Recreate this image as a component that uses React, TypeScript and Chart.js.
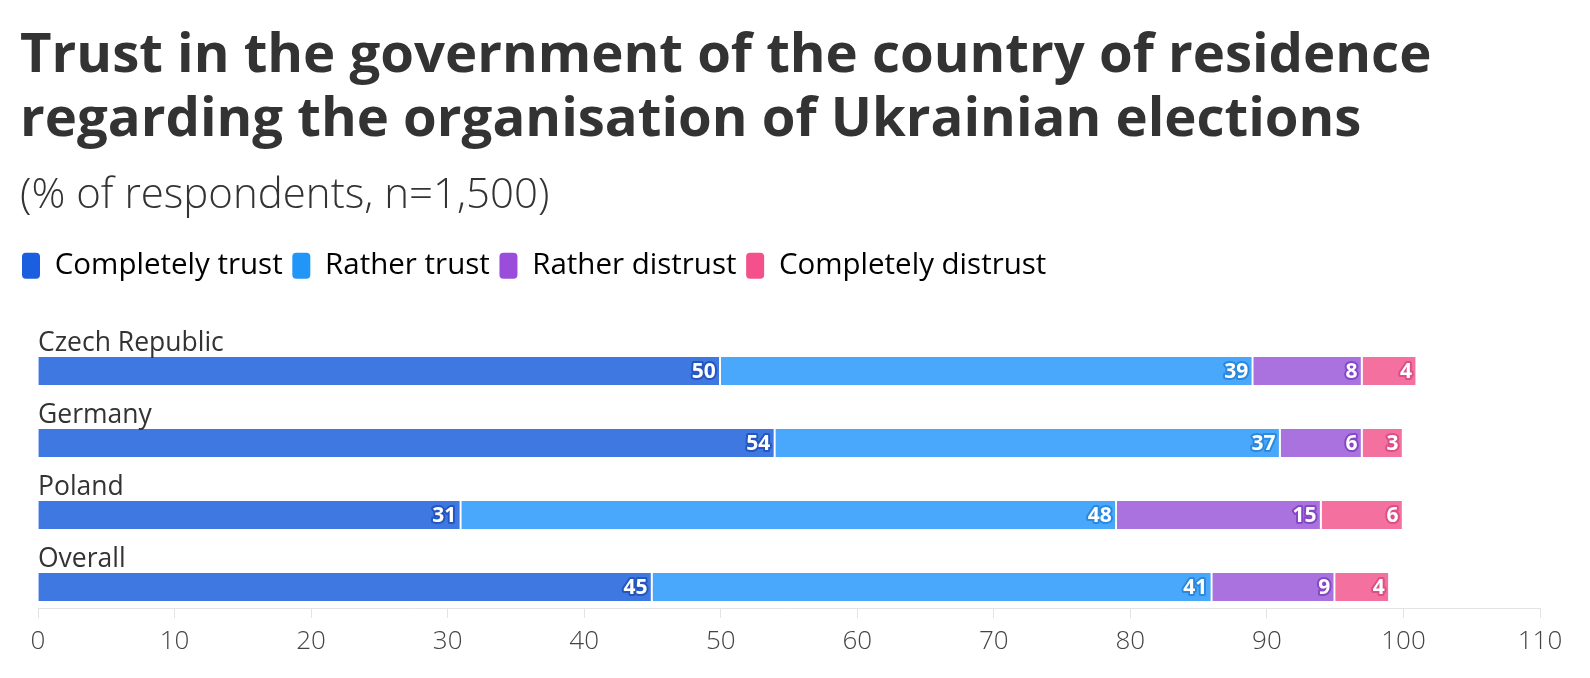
import React, { useEffect, useRef } from "react";
import { Chart, registerables } from "chart.js";

Chart.register(...registerables);

const titleLines = [
  "Trust in the government of the country of residence",
  "regarding the organisation of Ukrainian elections",
];
const subtitleText = "(% of respondents, n=1,500)";
const categories = ["Czech Republic", "Germany", "Poland", "Overall"];
const seriesNames = ["Completely trust", "Rather trust", "Rather distrust", "Completely distrust"];
const completelyTrust = [50, 54, 31, 45];
const ratherTrust = [39, 37, 48, 41];
const ratherDistrust = [8, 6, 15, 9];
const completelyDistrust = [4, 3, 6, 4];
const xTicks = [0, 10, 20, 30, 40, 50, 60, 70, 80, 90, 100, 110];
const legendColors = ["#1b5fe0", "#2196f8", "#9a4ddb", "#f4508b"];
const barColors = ["#3f78e0", "#4aa8fc", "#a972de", "#f4709e"];
const labelStrokeColors = ["#2456c0", "#2a88de", "#8347c8", "#dc4f84"];

const seriesValues = [completelyTrust, ratherTrust, ratherDistrust, completelyDistrust];

const FONT = "'Open Sans', 'Noto Sans', sans-serif";
const ROW_PX = 72; // vertical spacing between category rows
const Y_MAX = 3.29; // bottom edge of plot in row units

const categoryLabelPlugin = {
  id: "categoryLabels",
  afterDatasetsDraw(chart: any) {
    const ctx = chart.ctx;
    const meta = chart.getDatasetMeta(0);
    ctx.save();
    ctx.font = `400 26.5px ${FONT}`;
    ctx.fillStyle = "#333333";
    ctx.textAlign = "left";
    ctx.textBaseline = "alphabetic";
    meta.data.forEach((bar: any, i: number) => {
      const p = bar.getProps(["y", "height"], true);
      ctx.fillText(categories[i], chart.chartArea.left, p.y - p.height / 2 - 6);
    });
    ctx.restore();
  },
};

const valueLabelPlugin = {
  id: "valueLabels",
  afterDatasetsDraw(chart: any) {
    const ctx = chart.ctx;
    ctx.save();
    ctx.font = `700 21px ${FONT}`;
    ctx.textAlign = "right";
    ctx.textBaseline = "middle";
    ctx.lineJoin = "round";
    chart.data.datasets.forEach((ds: any, di: number) => {
      const meta = chart.getDatasetMeta(di);
      meta.data.forEach((bar: any, i: number) => {
        const p = bar.getProps(["x", "y"], true);
        const v = seriesValues[di][i];
        const tx = p.x - 5;
        const ty = p.y + 1;
        ctx.lineWidth = 4;
        ctx.strokeStyle = labelStrokeColors[di];
        ctx.strokeText(String(v), tx, ty);
        ctx.fillStyle = "#ffffff";
        ctx.fillText(String(v), tx, ty);
      });
    });
    ctx.restore();
  },
};

export default function App() {
  const ref = useRef<HTMLCanvasElement>(null);
  useEffect(() => {
    if (!ref.current) return;
    const chart: any = new Chart(ref.current, {
      type: "bar",
      data: {
        labels: categories,
        datasets: seriesNames.map((name, di) => ({
          label: name,
          data: categories.map((_, i) => ({ x: seriesValues[di][i], y: i })),
          backgroundColor: barColors[di],
          borderColor: "#ffffff",
          borderWidth: { top: 0, bottom: 0, left: 0, right: 2 },
          borderSkipped: false,
          barThickness: 28,
        })),
      },
      options: {
        animation: false,
        responsive: true,
        maintainAspectRatio: false,
        indexAxis: "y",
        layout: { padding: { left: 20, right: 50, top: 0, bottom: 0 } },
        scales: {
          x: {
            type: "linear",
            stacked: true,
            min: 0,
            max: 110,
            afterBuildTicks: (s: any) => {
              s.ticks = xTicks.map((v) => ({ value: v }));
            },
            afterFit: (s: any) => {
              s.height = 70;
            },
            grid: { drawOnChartArea: false, drawTicks: true, tickLength: 10, color: "#e3e3e3" },
            border: { display: true, color: "#e3e3e3", width: 1 },
            ticks: {
              color: "#444444",
              font: { family: FONT, size: 26, weight: "300" },
              padding: 8,
            },
          },
          y: {
            type: "linear",
            stacked: true,
            reverse: true,
            offset: false,
            min: -0.75,
            max: Y_MAX,
            display: true,
            grid: { display: false },
            border: { display: false },
            ticks: { display: false },
            afterFit: (s: any) => {
              s.width = 18;
            },
          },
        },
        plugins: {
          title: {
            display: true,
            text: titleLines,
            align: "start",
            color: "#333333",
            font: { family: FONT, size: 54.5, weight: "bold", lineHeight: 1.17 },
            padding: { top: 25, bottom: 0 },
          },
          subtitle: {
            display: true,
            text: subtitleText,
            align: "start",
            color: "#333333",
            font: { family: FONT, size: 42, weight: "300", lineHeight: 1.2 },
            padding: { top: 18, bottom: 28 },
          },
          legend: {
            display: true,
            position: "top",
            align: "start",
            labels: {
              boxWidth: 18,
              boxHeight: 26,
              useBorderRadius: true,
              borderRadius: 4,
              padding: 2,
              color: "#333333",
              font: { family: FONT, size: 29.5 },
              generateLabels: () =>
                seriesNames.map((name, i) => ({
                  text: name + " ",
                  fillStyle: legendColors[i],
                  strokeStyle: legendColors[i],
                  lineWidth: 0,
                  hidden: false,
                  datasetIndex: i,
                  borderRadius: 4,
                })),
            },
          },
          tooltip: { enabled: false },
        },
      },
      plugins: [categoryLabelPlugin, valueLabelPlugin],
    });
    // keep a fixed row spacing: derive the y-range from the laid-out plot height
    const area = chart.chartArea;
    chart.options.scales.y.min = Y_MAX - (area.bottom - area.top) / ROW_PX;
    chart.update();
    return () => chart.destroy();
  }, []);

  return (
    <div style={{ position: "fixed", left: 0, top: 0, width: 1590, height: 678, background: "#ffffff" }}>
      <canvas ref={ref} />
    </div>
  );
}
